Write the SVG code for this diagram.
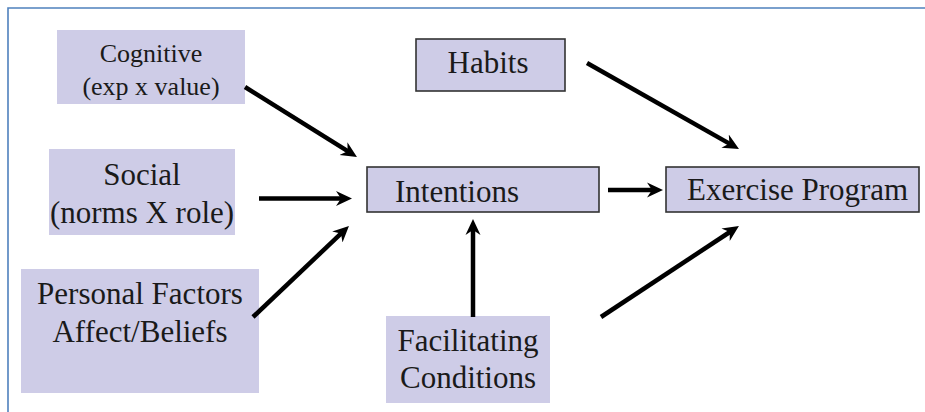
<svg xmlns="http://www.w3.org/2000/svg" width="925" height="412" viewBox="0 0 925 412">
<defs>
<marker id="ah" markerUnits="userSpaceOnUse" viewBox="0 -8 18 16" markerWidth="18" markerHeight="16" refX="6" refY="0" orient="auto">
<path d="M0,-7.5 L16,0 L0,7.5 L5,0 Z" fill="#000"/>
</marker>
</defs>
<rect width="925" height="412" fill="#fff"/>
<path d="M8,412 L8,8 L925,8" fill="none" stroke="#4f81bd" stroke-width="1.6"/>
<g id="cognitive">
<rect x="57" y="30" width="188" height="74" fill="#cecce7"/>
<text x="151" y="62" style="font-family:'Liberation Serif'" font-size="26" fill="#1a1a1a" text-anchor="middle">Cognitive</text>
<text x="151" y="95" style="font-family:'Liberation Serif'" font-size="26" fill="#1a1a1a" text-anchor="middle">(exp x value)</text>
</g>
<g id="social">
<rect x="49" y="149" width="186" height="86" fill="#cecce7"/>
<text x="142" y="185" style="font-family:'Liberation Serif'" font-size="31" fill="#1a1a1a" text-anchor="middle">Social</text>
<text x="142" y="223" style="font-family:'Liberation Serif'" font-size="31" fill="#1a1a1a" text-anchor="middle">(norms X role)</text>
</g>
<g id="personal">
<rect x="21" y="269" width="238" height="124" fill="#cecce7"/>
<text x="140" y="304" style="font-family:'Liberation Serif'" font-size="31" fill="#1a1a1a" text-anchor="middle">Personal Factors</text>
<text x="140" y="342" style="font-family:'Liberation Serif'" font-size="31" fill="#1a1a1a" text-anchor="middle">Affect/Beliefs</text>
</g>
<g id="habits">
<rect x="416" y="39" width="149" height="52" fill="#cecce7" stroke="#333" stroke-width="1.6"/>
<text x="488" y="73" style="font-family:'Liberation Serif'" font-size="31" fill="#1a1a1a" text-anchor="middle">Habits</text>
</g>
<g id="intentions">
<rect x="367" y="167" width="232" height="45" fill="#cecce7" stroke="#333" stroke-width="1.6"/>
<text x="395" y="202" style="font-family:'Liberation Serif'" font-size="31" fill="#1a1a1a">Intentions</text>
</g>
<g id="exercise">
<rect x="666" y="167" width="253" height="45" fill="#cecce7" stroke="#333" stroke-width="1.6"/>
<text x="687" y="200" style="font-family:'Liberation Serif'" font-size="31" fill="#1a1a1a">Exercise Program</text>
</g>
<g id="facilitating">
<rect x="386" y="316" width="164" height="87" fill="#cecce7"/>
<text x="468" y="351" style="font-family:'Liberation Serif'" font-size="31" fill="#1a1a1a" text-anchor="middle">Facilitating</text>
<text x="468" y="388" style="font-family:'Liberation Serif'" font-size="31" fill="#1a1a1a" text-anchor="middle">Conditions</text>
</g>
<g id="connectors" stroke="#000" stroke-width="4.5" fill="none" marker-end="url(#ah)">
<line x1="245" y1="87" x2="348.5" y2="151.7"/>
<line x1="259" y1="198.5" x2="342" y2="198.5"/>
<line x1="253" y1="317" x2="341.7" y2="232.9"/>
<line x1="473" y1="317" x2="473" y2="229"/>
<line x1="608" y1="190" x2="653" y2="190"/>
<line x1="587" y1="63" x2="730.3" y2="144.1"/>
<line x1="601" y1="317" x2="730.6" y2="231.5"/>
</g>
</svg>
